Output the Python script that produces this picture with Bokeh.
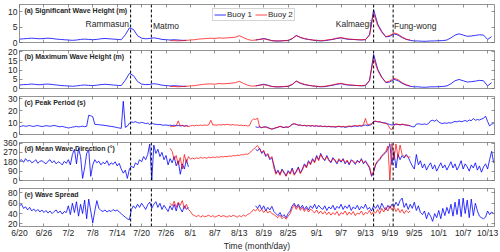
import numpy as np
from datetime import date
from bokeh.plotting import figure
from bokeh.layouts import column
from bokeh.models import (Range1d, FixedTicker, Span, Label, Legend, LegendItem, LinearAxis)
from bokeh.embed import file_html
from bokeh.resources import INLINE

# ---------------- data ----------------
tick_labels = ["6/20", "6/26", "7/2", "7/8", "7/14", "7/20", "7/26", "8/1", "8/7", "8/13",
               "8/19", "8/25", "9/1", "9/7", "9/13", "9/19", "9/25", "10/1", "10/7", "10/13"]
start_date = date(2014, 6, 20)

typhoon_names = ["Rammasun", "Matmo", "Kalmaegi", "Fung-wong"]
typhoon_days = [27.3, 32.4, 87.0, 91.8]

# start day (days after 6/20) of each record segment
b1_seg_a_start = 0.0
b1_seg_b_start = 58.0
b2_start = 37.0

# (a) significant wave height, daily
hs1_a = [1.1, 1.2, 1.3, 1.4, 1.3, 1.2, 1.3, 1.4, 1.3, 1.1, 1.0, 0.9, 0.8, 0.7, 0.8, 1.0, 1.1, 1.0, 0.9, 1.0,
         1.2, 1.3, 1.2, 1.1, 1.0, 0.9, 2.5, 4.7, 4.2, 2.2, 1.4, 1.2, 1.3, 1.5, 1.3, 1.0, 0.9, 0.8, 0.9, 0.8,
         0.7, 0.7]
hs1_b = [0.8, 1.0, 1.3, 1.0, 0.6, 0.5, 0.5, 0.6, 0.6, 1.2, 2.3, 1.6, 1.2, 1.0, 0.8, 0.6, 0.5, 0.6, 0.8, 1.0,
         1.3, 1.5, 1.2, 1.0, 1.0, 0.9, 0.8, 0.9, 2.5, 10.6, 6.0, 3.6, 1.8, 2.0, 2.8, 2.4, 1.6, 1.0, 0.7, 0.5,
         0.5, 0.4, 0.4, 0.5, 0.5, 0.6, 0.6, 0.8, 1.5, 2.4, 2.8, 2.4, 2.0, 2.1, 2.3, 2.5, 2.4, 1.0, 1.9]
hs2 = [0.6, 0.6, 0.5, 0.6, 0.7, 0.8, 0.9, 1.1, 1.2, 1.3, 1.4, 1.3, 1.5, 1.4, 1.5, 1.6, 1.7, 2.2, 1.6, 1.0,
       0.7, 0.8, 1.0, 1.2, 0.9, 0.6, 0.5, 0.5, 0.6, 0.7, 1.3, 2.2, 1.7, 1.3, 1.0, 0.8, 0.7, 0.6, 0.7, 0.9,
       1.1, 1.4, 1.6, 1.3, 1.1, 1.0, 0.9, 0.9, 1.0, 2.3, 9.5, 5.5, 3.3, 1.9, 2.3, 3.1, 2.7, 1.8, 1.1, 0.8]

# (b) maximum wave height, daily
hmax1_a = [1.9, 2.1, 2.2, 2.4, 2.2, 2.0, 2.3, 2.4, 2.2, 1.9, 1.7, 1.5, 1.4, 1.2, 1.4, 1.7, 1.9, 1.7, 1.6, 1.8,
           2.1, 2.3, 2.1, 1.9, 1.7, 1.6, 4.5, 8.2, 7.0, 3.8, 2.4, 2.1, 2.2, 2.6, 2.3, 1.8, 1.6, 1.4, 1.5, 1.4,
           1.2, 1.2]
hmax1_b = [1.4, 1.8, 2.3, 1.8, 1.1, 0.9, 0.9, 1.0, 1.1, 2.1, 4.0, 2.8, 2.1, 1.7, 1.4, 1.1, 0.9, 1.0, 1.4, 1.8,
           2.3, 2.6, 2.1, 1.8, 1.7, 1.6, 1.4, 1.6, 4.5, 18.5, 10.5, 6.2, 3.2, 3.5, 5.0, 4.2, 2.8, 1.8, 1.2, 0.9,
           0.9, 0.7, 0.7, 0.9, 0.9, 1.0, 1.1, 1.4, 2.6, 4.2, 4.9, 4.2, 3.5, 3.7, 4.0, 4.4, 4.2, 1.4, 3.2]
hmax2 = [1.1, 1.1, 0.9, 1.1, 1.2, 1.4, 1.6, 1.9, 2.2, 2.4, 2.5, 2.3, 2.7, 2.5, 2.7, 2.9, 3.1, 3.9, 2.8, 1.8,
         1.3, 1.4, 1.8, 2.1, 1.6, 1.1, 0.9, 0.9, 1.1, 1.3, 2.3, 4.0, 3.0, 2.3, 1.8, 1.4, 1.2, 1.1, 1.2, 1.6,
         2.0, 2.5, 2.8, 2.3, 2.0, 1.8, 1.6, 1.6, 1.8, 4.1, 16.5, 9.8, 5.9, 3.4, 4.1, 5.6, 4.8, 3.2, 2.0, 1.4]

# (c) peak period, half-daily
tp1_a = [6.5, 7.0, 7.4, 6.9, 7.2, 7.6, 7.0, 6.8, 7.3, 7.5, 7.1, 6.7, 7.0, 7.4, 7.2, 6.9, 7.3, 7.6, 7.2, 6.8,
         6.5, 6.9, 6.3, 6.0, 5.5, 5.8, 6.2, 6.5, 6.8, 6.4, 6.7, 7.0, 6.6, 6.9, 16.2, 15.8, 15.0, 8.6, 8.4, 8.2,
         8.0, 7.9, 7.6, 7.4, 7.0, 6.8, 6.6, 6.2, 5.8, 5.5, 5.2, 28.0, 6.0, 7.0, 9.5, 10.5, 10.2, 10.8, 10.0, 9.6,
         10.2, 9.8, 9.2, 9.6, 8.4, 9.8, 8.8, 8.6, 8.3, 8.5, 8.0, 7.8, 8.1, 7.6, 7.9, 7.5, 7.8, 7.4, 7.6, 7.2,
         7.5, 7.1, 7.4, 7.0]
tp1_b = [6.5, 6.0, 6.4, 5.8, 6.2, 6.6, 5.9, 5.2, 4.5, 5.0, 5.6, 6.0, 6.8, 6.2, 5.8, 6.3, 6.0, 7.2, 8.6, 9.0,
         8.4, 7.8, 8.0, 7.4, 7.6, 7.2, 7.5, 7.1, 7.4, 7.0, 7.3, 6.8, 7.1, 6.6, 6.9, 6.5, 6.8, 6.4, 6.6, 6.2,
         6.5, 6.8, 6.3, 6.6, 6.0, 6.4, 6.8, 6.5, 6.9, 7.2, 6.8, 7.3, 7.0, 7.6, 8.0, 7.4, 7.8, 8.5, 11.2, 11.0,
         10.8, 10.5, 10.2, 9.9, 9.6, 9.0, 8.4, 8.0, 8.3, 8.7, 8.4, 8.1, 8.5, 8.2, 7.9, 7.6, 7.2, 6.6, 6.4, 8.8,
         9.0, 8.7, 8.5, 8.9, 8.4, 9.2, 11.5, 12.0, 11.2, 12.4, 10.5, 9.6, 9.2, 9.8, 9.4, 10.0, 9.6, 10.4, 11.0, 10.6,
         11.4, 10.8, 11.2, 11.8, 11.0, 12.2, 11.6, 13.5, 12.0, 12.6, 12.2, 13.0, 13.6, 15.5, 11.0, 7.2, 8.8, 9.2]
tp2 = [6.5, 7.0, 6.8, 7.5, 11.5, 7.2, 7.8, 7.0, 7.4, 6.8, 7.2, 7.6, 7.3, 7.8, 7.5, 7.9, 7.6, 8.0, 7.7, 8.2,
       12.0, 7.9, 8.1, 7.8, 8.3, 8.0, 8.4, 8.1, 8.6, 8.2, 8.0, 8.4, 7.8, 8.1, 7.6, 7.9, 7.4, 7.7, 7.2, 7.5,
       11.5, 13.2, 12.6, 13.8, 6.2, 5.8, 6.4, 6.0, 5.6, 5.0, 4.6, 5.2, 5.8, 6.2, 7.0, 6.4, 6.0, 6.5, 6.2, 7.0,
       8.4, 9.2, 8.6, 8.0, 7.8, 7.5, 7.8, 7.3, 7.6, 7.2, 7.5, 7.1, 7.4, 7.0, 7.2, 6.8, 7.0, 6.7, 7.0, 6.6,
       6.8, 6.4, 6.7, 7.0, 6.6, 6.9, 6.4, 6.8, 7.2, 6.9, 7.3, 7.6, 7.2, 7.8, 7.5, 8.2, 13.5, 8.0, 8.6, 9.0,
       10.8, 11.4, 10.6, 10.9, 10.0, 9.6, 9.2, 8.4, 5.0, 4.2, 7.6, 8.9, 8.6, 8.2, 8.8, 8.4, 8.0, 7.8, 7.5]

# (d) mean wave direction, half-daily
dir1_a = [190, 200, 175, 210, 185, 195, 170, 180, 200, 165, 185, 190, 175, 160, 185, 200, 170, 190, 160, 180,
          170, 150, 185, 165, 200, 150, 250, 300, 160, 310, 230, 20, 120, 260, 295, 40, 150, 200, 170, 185,
          150, 175, 160, 190, 145, 170, 155, 180, 140, 165, 110, 70, 100, 20, 110, 140, 120, 170, 150, 200,
          180, 230, 200, 250, 350, 5, 340, 260, 300, 230, 270, 200, 240, 150, 210, 170, 230, 140, 190, 60,
          160, 110, 200, 130]
dir1_b = [300, 285, 310, 260, 280, 230, 250, 200, 220, 150, 70, 100, 60, 110, 80, 45, 95, 70, 120, 60,
          90, 130, 75, 110, 160, 130, 190, 160, 210, 180, 240, 200, 260, 220, 190, 240, 200, 170, 220, 190,
          160, 200, 175, 210, 160, 190, 150, 200, 180, 155, 195, 170, 210, 160, 190, 150, 120, 40, 80, 150,
          180, 200, 230, 250, 270, 300, 350, 150, 280, 120, 250, 200, 240, 215, 250, 225, 180, 140, 110, 250,
          150, 190, 120, 160, 100, 140, 170, 110, 150, 90, 130, 170, 120, 150, 100, 140, 180, 120, 160, 100,
          140, 190, 110, 160, 130, 90, 150, 120, 170, 100, 140, 80, 130, 160, 110, 200, 280, 170]
dir2 = [310, 280, 200, 240, 150, 220, 110, 250, 170, 230, 205, 215, 208, 218, 212, 222, 215, 220, 214, 224,
        218, 226, 220, 228, 222, 230, 226, 232, 228, 236, 232, 240, 236, 244, 240, 248, 246, 254, 252, 262,
        285, 300, 320, 335, 300, 270, 290, 240, 260, 210, 230, 120, 60, 90, 50, 100, 70, 40, 85, 60,
        110, 50, 80, 120, 65, 100, 150, 120, 180, 150, 200, 170, 230, 190, 250, 210, 200, 230, 190, 180,
        210, 200, 170, 210, 185, 200, 170, 195, 160, 190, 190, 165, 185, 180, 200, 170, 180, 160, 130, 50,
        90, 160, 190, 210, 240, 260, 280, 330, 5, 355, 200, 350, 220, 340, 250, 230, 240, 220, 230]

# (e) wave spread, half-daily
spr1_a = [55, 58, 50, 53, 47, 52, 45, 49, 44, 48, 43, 47, 42, 46, 41, 45, 40, 44, 47, 41,
          45, 39, 44, 42, 55, 38, 60, 42, 63, 35, 58, 40, 66, 30, 68, 45, 22, 45, 65, 50,
          46, 44, 47, 43, 46, 44, 48, 45, 47, 43, 40, 36, 33, 30, 28, 48, 55, 50, 58, 52,
          60, 54, 48, 57, 62, 50, 58, 63, 52, 60, 48, 56, 50, 44, 55, 47, 58, 45, 60, 50,
          43, 55, 48, 52]
spr1_b = [55, 50, 57, 48, 55, 45, 52, 47, 54, 44, 40, 36, 42, 34, 38, 32, 40, 45, 55, 60,
          52, 58, 50, 56, 48, 54, 47, 55, 50, 58, 49, 56, 51, 48, 55, 46, 53, 49, 56, 47,
          54, 50, 58, 48, 55, 50, 57, 46, 53, 49, 56, 47, 54, 50, 58, 48, 52, 45, 55, 50,
          57, 48, 60, 52, 47, 56, 50, 58, 53, 62, 55, 65, 70, 52, 60, 48, 58, 50, 62, 46,
          55, 42, 38, 45, 30, 42, 35, 25, 40, 32, 46, 30, 50, 36, 52, 40, 58, 35, 62, 38,
          68, 34, 70, 40, 66, 32, 68, 36, 60, 45, 35, 32, 30, 33, 45, 38, 43, 40]
spr2 = [60, 55, 64, 52, 62, 56, 65, 50, 58, 48, 44, 38, 36, 34, 37, 33, 36, 34, 35, 37,
        34, 36, 33, 35, 37, 34, 36, 35, 33, 36, 34, 37, 35, 33, 36, 34, 37, 35, 38, 40,
        43, 48, 45, 50, 44, 48, 42, 47, 41, 45, 40, 38, 35, 32, 37, 30, 34, 29, 35, 40,
        50, 57, 48, 55, 46, 52, 44, 50, 43, 49, 45, 41, 47, 40, 45, 39, 44, 38, 43, 37,
        42, 38, 44, 36, 42, 39, 45, 37, 43, 38, 44, 36, 41, 39, 45, 37, 42, 40, 46, 38,
        44, 41, 48, 40, 50, 43, 52, 45, 55, 47, 53, 44, 50, 42, 48, 40, 46, 42, 45]

# ---------------- helpers ----------------
def day_of(lbl):
    m, d = map(int, lbl.split("/"))
    return (date(2014, m, d) - start_date).days

tick_days = [day_of(s) for s in tick_labels]
tick_over = {d: s for d, s in zip(tick_days, tick_labels)}

def series(segments, step):
    xs, ys = [], []
    for i, (t0, vals) in enumerate(segments):
        if i:
            xs.append(np.nan)
            ys.append(np.nan)
        xs += [t0 + step * k for k in range(len(vals))]
        ys += list(vals)
    return xs, ys

FONT = "Liberation Sans"
TXT = "#262626"
FW, FH = 475, 38
xr = Range1d(0, 116.7)

panels = [
    ("(a) Significant Wave Height (m)", (0, 12.3), [0, 5, 10], hs1_a, hs1_b, hs2, 1.0),
    ("(b) Maximum Wave Height (m)", (0, 20.6), [0, 5, 10, 15, 20], hmax1_a, hmax1_b, hmax2, 1.0),
    ("(c) Peak Period (s)", (0, 32), [0, 10, 20, 30], tp1_a, tp1_b, tp2, 0.5),
    ("(d) Mean Wave Direction (\u00b0)", (0, 365), [0, 90, 180, 270, 360], dir1_a, dir1_b, dir2, 0.5),
    ("(e) Wave Spread", (15, 88.5), [20, 40, 60, 80], spr1_a, spr1_b, spr2, 0.5),
]

def style_axis(ax, ticks, labels):
    ax.ticker = FixedTicker(ticks=ticks)
    ax.axis_line_color = None
    ax.major_tick_in = 3
    ax.major_tick_out = 0
    ax.minor_tick_line_color = None
    ax.major_tick_line_color = "#666666"
    ax.major_tick_line_width = 0.7
    if labels:
        ax.major_label_text_font = FONT
        ax.major_label_text_font_size = "8.5px"
        ax.major_label_text_color = TXT
        ax.major_label_standoff = 2
    else:
        ax.major_label_text_font_size = "0px"
        ax.major_label_text_color = None
        ax.major_label_standoff = 0

figs = []
n = len(panels)
for i, (title, (ylo, yhi), yt, v1a, v1b, v2, step) in enumerate(panels):
    last = i == n - 1
    p = figure(frame_width=FW, frame_height=FH, x_range=xr, y_range=Range1d(ylo, yhi),
               output_backend="svg", toolbar_location=None,
               min_border_left=19, min_border_right=5,
               min_border_top=4, min_border_bottom=0 if last else 4)
    p.grid.visible = False
    p.outline_line_color = "#666666"
    p.outline_line_width = 0.7
    p.background_fill_color = "white"

    bx = p.below[0]
    ly = p.left[0]
    style_axis(bx, tick_days, last)
    bx.major_label_overrides = tick_over
    style_axis(ly, yt, True)
    if last:
        bx.major_label_standoff = 1
        bx.axis_label = "Time (month/day)"
        bx.axis_label_text_font = FONT
        bx.axis_label_text_font_size = "8.5px"
        bx.axis_label_text_font_style = "normal"
        bx.axis_label_text_color = TXT
        bx.axis_label_standoff = 0
    top_ax = LinearAxis()
    style_axis(top_ax, tick_days, False)
    p.add_layout(top_ax, "above")
    right_ax = LinearAxis()
    style_axis(right_ax, yt, False)
    p.add_layout(right_ax, "right")

    x1, y1 = series([(b1_seg_a_start, v1a), (b1_seg_b_start, v1b)], step)
    x2, y2 = series([(b2_start, v2)], step)
    r1 = p.line(x1, y1, line_color="#0000ff", line_width=0.8)
    r2 = p.line(x2, y2, line_color="#ff0000", line_width=0.8, line_alpha=0.9)

    for d in typhoon_days:
        p.add_layout(Span(location=d, dimension="height", line_color="black",
                          line_dash="3 2", line_width=1))

    p.add_layout(Label(x=1.2, y=yhi - (yhi - ylo) * 0.07, text=title, text_font=FONT,
                       text_font_size="7px", text_font_style="bold", text_color=TXT,
                       text_baseline="top"))

    if i == 0:
        aligns = ["right", "left", "right", "left"]
        ys = [6.0, 5.3, 6.0, 5.3]
        offs = [-0.4, 0.4, -0.6, 0.2]
        for name, d, al, yy, off in zip(typhoon_names, typhoon_days, aligns, ys, offs):
            p.add_layout(Label(x=d + off, y=yy, text=name, text_font=FONT, text_font_size="8.5px",
                               text_color=TXT, text_align=al, text_baseline="middle"))
        leg = Legend(items=[LegendItem(label="Buoy 1", renderers=[r1]),
                            LegendItem(label="Buoy 2", renderers=[r2])],
                     orientation="horizontal", location=(193, 21),
                     label_text_font=FONT, label_text_font_size="8px", label_text_color=TXT,
                     glyph_width=12, glyph_height=9, label_height=9, label_standoff=1,
                     spacing=3, padding=1, margin=0,
                     border_line_color="#aaaaaa", border_line_width=0.7,
                     background_fill_color="white", background_fill_alpha=1)
        p.add_layout(leg)
    figs.append(p)

layout = column(*figs, spacing=0)
open("out.html", "w").write(file_html(layout, INLINE))
